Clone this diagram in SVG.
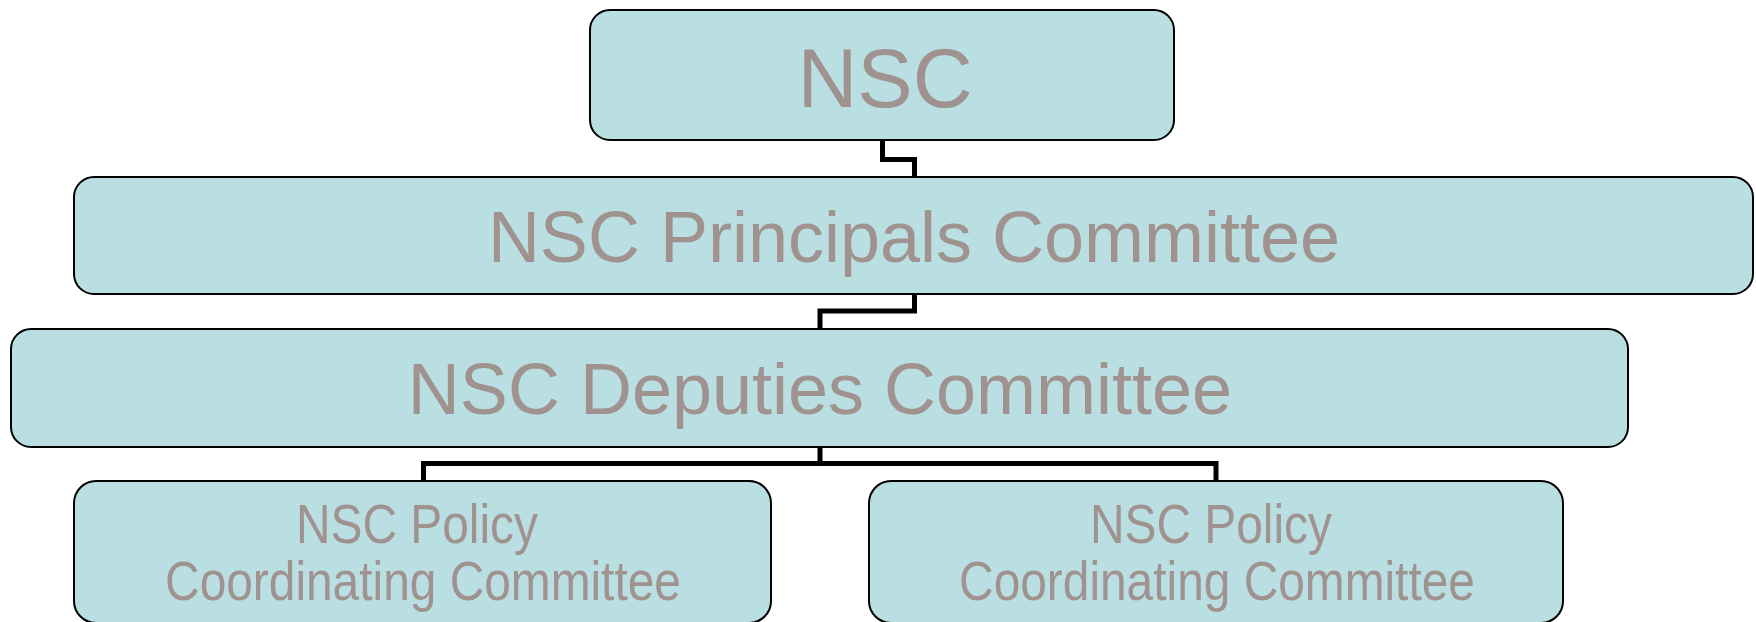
<svg xmlns="http://www.w3.org/2000/svg" width="1756" height="622" viewBox="0 0 1756 622">
<style>
.box{fill:#B9DFE2;stroke:#000;stroke-width:2}
.lbl{font-family:"Liberation Sans",Arial,sans-serif;fill:#A0928F;text-anchor:middle}
.conn{fill:none;stroke:#000;stroke-width:5;stroke-linejoin:miter}
</style>
<rect width="1756" height="622" fill="#fff"/>
<g id="connectors">
<polyline class="conn" points="882.5,140 882.5,159.5 914.5,159.5 914.5,177"/>
<polyline class="conn" points="914.5,294 914.5,311 820,311 820,329"/>
<polyline class="conn" points="820,447 820,463.5 423.5,463.5 423.5,481"/>
<polyline class="conn" points="820,463.5 1216,463.5 1216,481"/>
</g>
<g id="nsc">
<rect class="box" x="590" y="10" width="584" height="130" rx="20"/>
<text class="lbl" x="885" y="107" font-size="83">NSC</text>
</g>
<g id="principals">
<rect class="box" x="74" y="177" width="1679" height="117" rx="20"/>
<text class="lbl" x="914" y="262" font-size="72">NSC Principals Committee</text>
</g>
<g id="deputies">
<rect class="box" x="11" y="329" width="1617" height="118" rx="20"/>
<text class="lbl" x="820" y="414" font-size="72">NSC Deputies Committee</text>
</g>
<g id="policy-left">
<rect class="box" x="74" y="481" width="697" height="142" rx="22"/>
<g transform="translate(423,0) scale(0.87,1)">
<text class="lbl" x="-7" y="543" font-size="55">NSC Policy</text>
<text class="lbl" x="0" y="600" font-size="55">Coordinating Committee</text>
</g>
</g>
<g id="policy-right">
<rect class="box" x="869" y="481" width="694" height="142" rx="22"/>
<g transform="translate(1217,0) scale(0.87,1)">
<text class="lbl" x="-7" y="543" font-size="55">NSC Policy</text>
<text class="lbl" x="0" y="600" font-size="55">Coordinating Committee</text>
</g>
</g>
</svg>
